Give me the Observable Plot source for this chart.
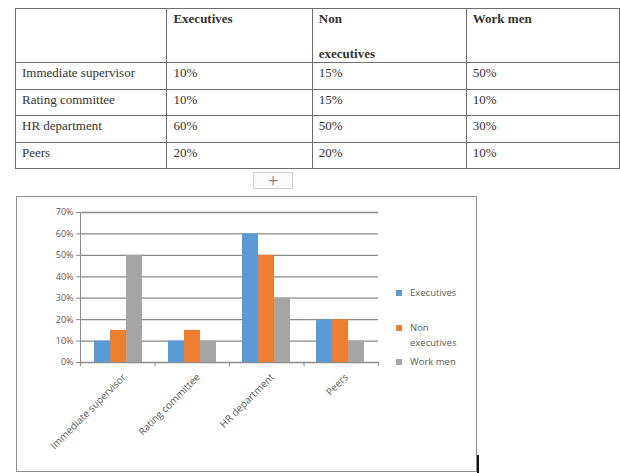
<!DOCTYPE html>
<html>
<head>
<meta charset="utf-8">
<script src="https://cdn.jsdelivr.net/npm/d3@7"></script>
<script src="https://cdn.jsdelivr.net/npm/@observablehq/plot@0.6"></script>
<style>
html, body { margin: 0; padding: 0; background: #fff; }
body { width: 620px; height: 473px; overflow: hidden; position: relative; }
#tbl { position: absolute; left: 15px; top: 8px; border-collapse: collapse; table-layout: fixed;
  font-family: "Liberation Serif", "Times New Roman", serif; font-size: 13px; color: #333; }
#tbl td, #tbl th { font-family: "Liberation Serif", "Times New Roman", serif; border: 1.5px solid #6e6e6e; padding: 1px 6px 0 6px; text-align: left; vertical-align: top;
  line-height: 18px; overflow: hidden; white-space: nowrap; }
#tbl th { font-weight: bold; line-height: 16px; padding-top: 2px; }
#tbl th .l2 { display: block; margin-top: 19px; }
#plus { position: absolute; left: 253px; top: 172px; width: 38px; height: 15px; border: 1px solid #cfcfcf;
  background: #fbfbfb; color: #8a8a8a; font: 14px/15px "DejaVu Sans", sans-serif; text-align: center; }
#frame { position: absolute; left: 16px; top: 196px; width: 459px; height: 274px; border: 1px solid #8e8e8e; }
#frame svg { position: absolute; left: 0; top: 0; }
#legend { position: absolute; left: 379px; top: 0; font-family: "Open Sans", sans-serif; font-size: 9.5px; color: #595959; }
.li { position: absolute; white-space: nowrap; line-height: 15px; }
.sw { position: absolute; width: 6px; height: 6px; }
#cursor { position: absolute; left: 477px; top: 455px; width: 2px; height: 18px; background: #111; }
</style>
</head>
<body>
<table id="tbl"></table>
<div id="plus">+</div>
<div id="frame"></div>
<div id="cursor"></div>
<script>
// ---- data ----
const categories = ["Immediate supervisor", "Rating committee", "HR department", "Peers"];
const series = ["Executives", "Non executives", "Work men"];
const executives = [0.10, 0.10, 0.60, 0.20];
const nonExecutives = [0.15, 0.15, 0.50, 0.20];
const workMen = [0.50, 0.10, 0.30, 0.10];
const colors = ["#5B9BD5", "#ED7D31", "#A5A5A5"];
const yTicks = [0, 0.1, 0.2, 0.3, 0.4, 0.5, 0.6, 0.7];
const tableRowLabels = ["Immediate supervisor", "Rating committee", "HR department", "Peers"];
const tableHeaderLines = [["Executives"], ["Non", "executives"], ["Work men"]];

const seriesValues = [executives, nonExecutives, workMen];
const data = [];
categories.forEach((c, i) => series.forEach((s, j) => data.push({category: c, series: s, value: seriesValues[j][i]})));

// ---- table ----
const pct = d3.format(".0%");
const colWidths = [152, 147, 156, 155];
const tbl = document.getElementById("tbl");
const cg = document.createElement("colgroup");
colWidths.forEach(w => { const c = document.createElement("col"); c.style.width = w + "px"; cg.appendChild(c); });
tbl.appendChild(cg);
const hr = document.createElement("tr");
hr.style.height = "54px";
hr.appendChild(document.createElement("th"));
tableHeaderLines.forEach(lines => {
  const th = document.createElement("th");
  lines.forEach((t, k) => { const sp = document.createElement("span"); sp.textContent = t; if (k > 0) sp.className = "l2"; th.appendChild(sp); });
  hr.appendChild(th);
});
tbl.appendChild(hr);
tableRowLabels.forEach((lab, i) => {
  const tr = document.createElement("tr");
  tr.style.height = "26.6px";
  const td0 = document.createElement("td"); td0.textContent = lab; tr.appendChild(td0);
  seriesValues.forEach(arr => { const td = document.createElement("td"); td.textContent = pct(arr[i]); tr.appendChild(td); });
  tbl.appendChild(tr);
});

// ---- chart ----
const W = 459, H = 274;
const margins = {marginLeft: 63, marginRight: 98, marginTop: 15, marginBottom: 109};
const font = "'Open Sans', sans-serif";
const gray = "#595959";

const bg = Plot.plot({
  width: W, height: H, ...margins,
  style: {fontFamily: font, fontSize: "9px", color: gray, background: "transparent", overflow: "visible"},
  x: {type: "linear", domain: [0, categories.length], axis: null},
  y: {domain: [0, 0.7], axis: null},
  marks: [
    Plot.ruleY(yTicks, {stroke: "#8a8a8a", strokeWidth: 1.3}),
    Plot.axisY({ticks: yTicks, tickFormat: "%", tickSize: 4, tickPadding: 3, label: null, stroke: "#8c8c8c", fill: gray}),
    Plot.axisX({ticks: d3.range(categories.length + 1), tickFormat: () => "", tickSize: 4, label: null, stroke: "#8c8c8c"}),
    Plot.ruleX([0], {stroke: "#8c8c8c"}),
    Plot.ruleY([0], {stroke: "#8c8c8c"})
  ]
});

const fg = Plot.plot({
  width: W, height: H, ...margins,
  style: {fontFamily: font, fontSize: "10px", color: gray, background: "transparent", overflow: "visible"},
  fx: {domain: categories, paddingInner: 0.33, paddingOuter: 0.165},
  x: {domain: series, padding: 0, axis: null},
  y: {domain: [0, 0.7], axis: null},
  color: {domain: series, range: colors},
  marks: [
    Plot.barY(data, {fx: "category", x: "series", y: "value", fill: "series", inset: 0}),
    Plot.axisFx({anchor: "bottom", tickRotate: -45, tickSize: 0, tickPadding: 3, label: null, dx: 6, dy: 10, fill: gray})
  ]
});

const frame = document.getElementById("frame");
frame.appendChild(bg);
frame.appendChild(fg);

// ---- legend ----
const legend = document.createElement("div");
legend.id = "legend";
const legendItems = [
  {lines: ["Executives"], top: 88},
  {lines: ["Non", "executives"], top: 123},
  {lines: ["Work men"], top: 157}
];
legendItems.forEach((it, j) => {
  const sw = document.createElement("div");
  sw.className = "sw";
  sw.style.background = colors[j];
  sw.style.left = "0px";
  sw.style.top = (it.top + 5) + "px";
  legend.appendChild(sw);
  it.lines.forEach((t, k) => {
    const d = document.createElement("div");
    d.className = "li";
    d.textContent = t;
    d.style.left = "14px";
    d.style.top = (it.top + k * 15) + "px";
    legend.appendChild(d);
  });
});
frame.appendChild(legend);
</script>
</body>
</html>
